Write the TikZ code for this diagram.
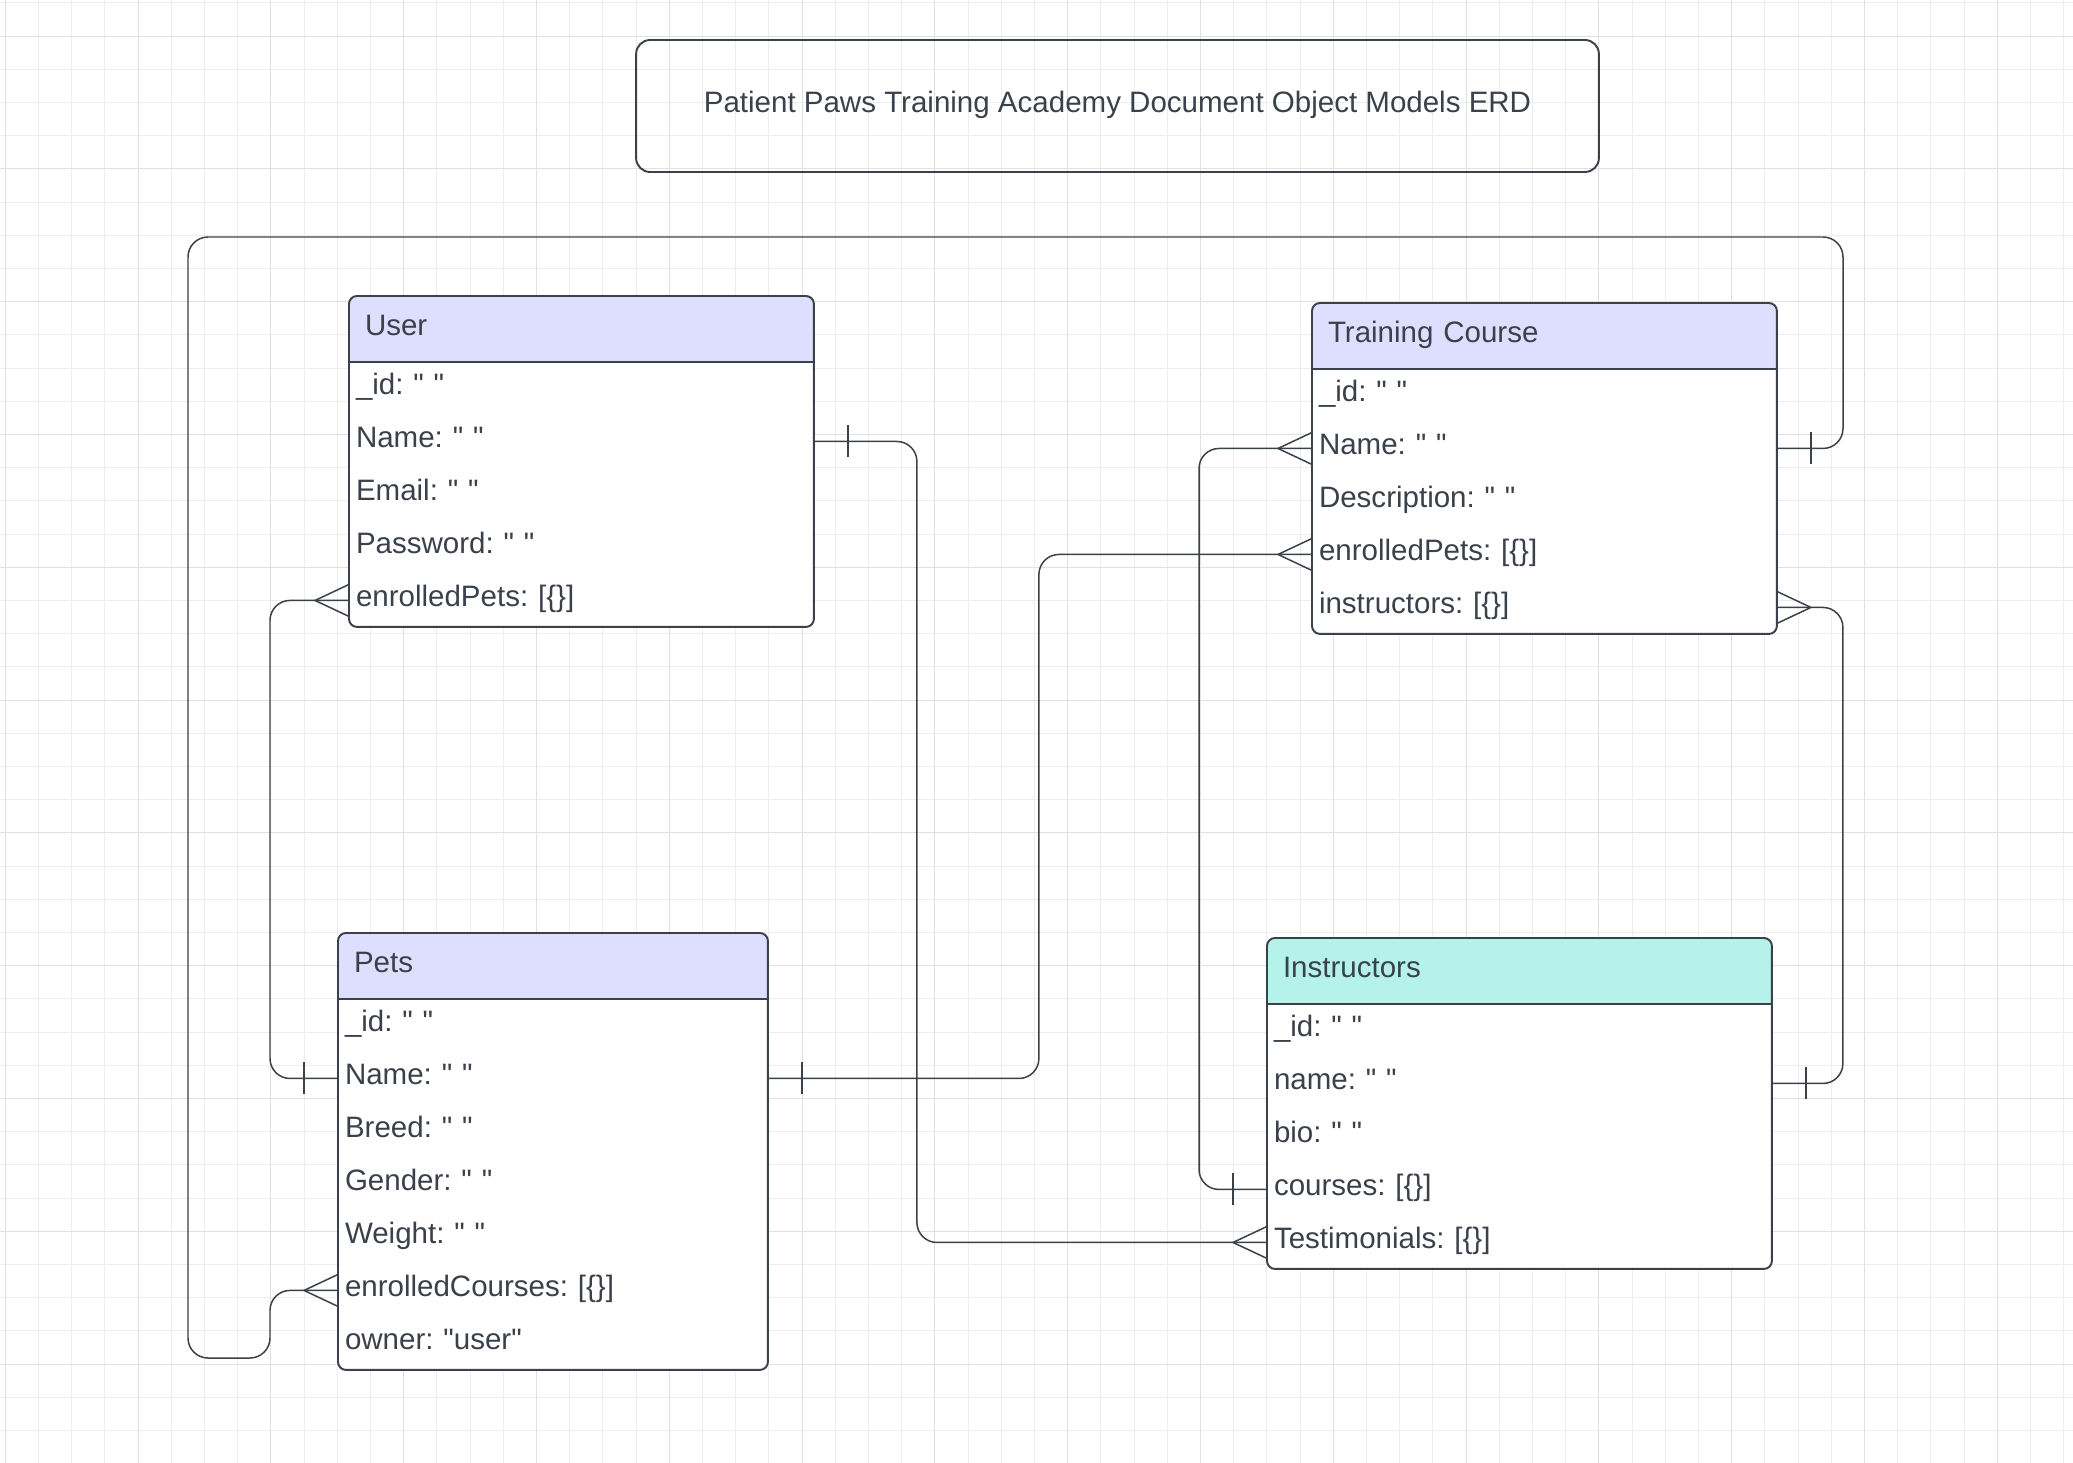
\documentclass[tikz,border=0pt]{standalone}
\usepackage{fontspec}
\setmainfont{Liberation Sans}[Ligatures=TeXOff]
\usepackage{tikz}
\usetikzlibrary{positioning}
\frenchspacing
\definecolor{ink}{HTML}{3A414A}
\definecolor{headblue}{HTML}{DEDEFF}
\definecolor{headmint}{HTML}{B5F3EA}
\definecolor{gridfine}{HTML}{EDEDED}
\definecolor{gridbold}{HTML}{E0E0E0}
\pgfdeclarelayer{paper}
\pgfdeclarelayer{boxes}
\pgfsetlayers{paper,boxes,main}
\tikzset{
  erdfont/.style={font=\fontsize{16.8}{20}\selectfont, text=ink, text height=12pt, text depth=5pt},
  entityhead/.style={erdfont, anchor=north west, minimum height=1.32cm, inner xsep=0.32cm, inner ysep=0pt, outer sep=0pt, align=left},
  entityrow/.style={erdfont, minimum height=1.06cm, inner xsep=0.14cm, inner ysep=0pt, outer sep=0pt, align=left},
  entityline/.style={draw=ink, line width=1.1pt},
  link/.style={draw=ink, line width=0.85pt, rounded corners=0.4cm},
  paperfine/.style={draw=gridfine, line width=0.5pt},
  paperbold/.style={draw=gridbold, line width=0.55pt},
  crow/.pic={\draw[link, sharp corners] (0,-16) -- (-34,0) -- (0,16);},
  bar/.pic={\draw[link, sharp corners] (-34,-16) -- (-34,16);}
}
\newcommand\erdentity[6]{%
  \pgfmathsetlengthmacro\headtw{#3-0.64cm}%
  \pgfmathsetlengthmacro\rowtw{#3-0.28cm}%
  \node[entityhead, text width=\headtw, alias=#1-0] (#1) at #2 {#5};
  \foreach \attr [count=\n, remember=\n as \p (initially 0)] in {#6}{
    \node[entityrow, text width=\rowtw, below=0pt of #1-\p] (#1-\n) {\attr};
    \xdef\lastrow{\n}}
  \begin{pgfonlayer}{boxes}
    \fill[white, rounded corners=0.16cm] (#1.north west) rectangle (#1-\lastrow.south east);
    \fill[#4, rounded corners=0.16cm] (#1.north west) rectangle (#1.south east);
    \fill[#4] (#1.west) rectangle (#1.south east);
  \end{pgfonlayer}
  \draw[entityline, rounded corners=0.16cm] (#1.north west) rectangle (#1-\lastrow.south east);
  \draw[entityline] (#1.south west) -- (#1.south east);
}

\begin{document}
\begin{tikzpicture}[x=0.02cm, y=-0.02cm]
\useasboundingbox (0,0) rectangle (2073,1463);
\begin{pgfonlayer}{paper}
\fill[white] (0,0) rectangle (2073,1463);
\foreach \k in {0,...,62} \draw[paperfine] ({5.2+33.2*\k},0) -- ++(0,1463);
\foreach \k in {0,...,44} \draw[paperfine] (0,{2.8+33.2*\k}) -- ++(2073,0);
\foreach \k in {0,...,15} \draw[paperbold] ({5.2+132.8*\k},0) -- ++(0,1463);
\foreach \k in {0,...,10} \draw[paperbold] (0,{36+132.8*\k}) -- ++(2073,0);
\end{pgfonlayer}

\node[draw=ink, line width=1.1pt, rounded corners=0.28cm, minimum width=19.26cm, minimum height=2.64cm, erdfont] (title) at (1117.5,106) {Patient Paws Training Academy Document Object Models ERD};

\erdentity{user}{(349,296)}{9.3cm}{headblue}{User}{\_id: " ", Name: " ", Email: " ", Password: " ", enrolledPets: [\{\}]}
\erdentity{tc}{(1312,303)}{9.3cm}{headblue}{Training Course}{\_id: " ", Name: " ", Description: " ", enrolledPets: [\{\}], instructors: [\{\}]}
\erdentity{pets}{(338,933)}{8.6cm}{headblue}{Pets}{\_id: " ", Name: " ", Breed: " ", Gender: " ", Weight: " ", enrolledCourses: [\{\}], owner: "user"}
\erdentity{instr}{(1267,938)}{10.1cm}{headmint}{Instructors}{\_id: " ", name: " ", bio: " ", courses: [\{\}], Testimonials: [\{\}]}

\draw[link] (user-2.east) -- ++(103,0) |- (instr-5.west);
\draw[link] (user-5.west) -- ++(-79,0) |- (pets-2.west);
\draw[link] (pets-6.west) -- ++(-68,0) |- (188,1358) -- (188,237) -- (1843,237) |- (tc-2.east);
\draw[link] (pets-2.east) -- ++(271,0) |- (tc-4.west);
\draw[link] (tc-2.west) -- ++(-113,0) |- (instr-4.west);
\draw[link] (tc-5.east) -- ++(66,0) |- (instr-2.east);

\foreach \a in {instr-5.west, user-5.west, pets-6.west, tc-4.west, tc-2.west} \pic at (\a) {crow};
\pic[rotate=180] at (tc-5.east) {crow};
\foreach \a in {pets-2.west, instr-4.west} \pic at (\a) {bar};
\foreach \a in {user-2.east, tc-2.east, pets-2.east, instr-2.east} \pic[rotate=180] at (\a) {bar};
\end{tikzpicture}
\end{document}
